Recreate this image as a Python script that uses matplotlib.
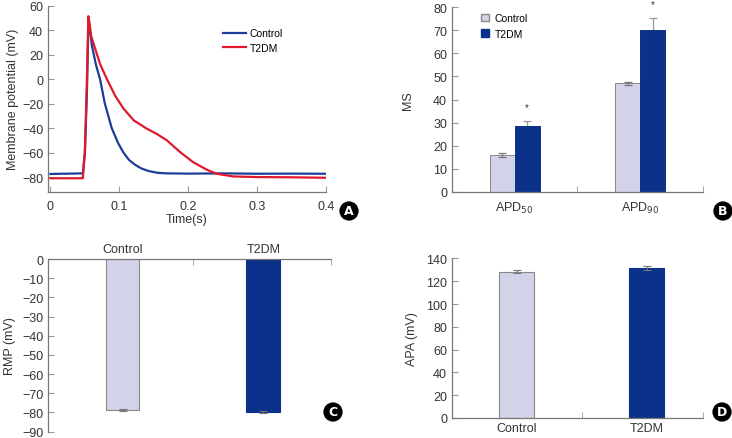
import matplotlib
matplotlib.use('Agg')
import numpy as np
import matplotlib.pyplot as plt
from matplotlib.patches import Patch

plt.rcParams['font.family'] = ['Liberation Sans', 'DejaVu Sans']

C_LINE = '#1d3e98'
T_LINE = '#e0182c'
C_BAR = '#d2d2e8'
T_BAR = '#0b318a'
GRID = '#777777'
TXT = '#333333'

# panel A: action potential traces
t_ctrl = [0.0, 0.047, 0.050, 0.053, 0.055, 0.058, 0.060, 0.066, 0.072, 0.079, 0.089,
          0.098, 0.106, 0.114, 0.123, 0.132, 0.142, 0.155, 0.169, 0.20, 0.25, 0.30, 0.35, 0.40]
v_ctrl = [-77.5, -77.0, -60, -10, 42, 38, 28, 12, 0, -20, -40,
          -52, -60, -66, -70, -73, -75, -76.5, -77, -77.2, -77.0, -77.3, -77.2, -77.3]
t_t2dm = [0.0, 0.047, 0.050, 0.053, 0.055, 0.057, 0.059, 0.065, 0.072, 0.082, 0.094,
          0.106, 0.121, 0.140, 0.154, 0.169, 0.188, 0.207, 0.227, 0.241, 0.265, 0.299, 0.35, 0.40]
v_t2dm = [-81, -81, -60, 0, 51.5, 45, 35.5, 24.8, 12.5, 0, -13.6,
          -24, -33.7, -40.5, -44.6, -50, -59.5, -67.8, -74, -77.3, -79.5, -80, -80.2, -80.6]

# panel B: action potential duration
apd_labels = ['APD$_{50}$', 'APD$_{90}$']
apd_ctrl = [16.0, 47.0]
apd_ctrl_err = [1.0, 0.8]
apd_t2dm = [28.3, 70.0]
apd_t2dm_err = [2.6, 5.4]

# panel C / D
groups = ['Control', 'T2DM']
rmp = [-78.8, -79.6]
rmp_err = [0.6, 0.5]
apa = [128.5, 131.5]
apa_err = [1.3, 2.0]

fig = plt.figure(figsize=(7.32, 4.39), dpi=100)
axA = fig.add_axes([0.0656, 0.561, 0.3798, 0.4235])
axB = fig.add_axes([0.6175, 0.561, 0.3425, 0.420])
axC = fig.add_axes([0.0656, 0.0144, 0.3864, 0.3933])
axD = fig.add_axes([0.6175, 0.0456, 0.3425, 0.3634])


def style(ax, spines=('left', 'bottom')):
    for s in ['left', 'right', 'top', 'bottom']:
        ax.spines[s].set_visible(s in spines)
        ax.spines[s].set_color(GRID)
        ax.spines[s].set_linewidth(0.9)
    ax.tick_params(direction='in', length=4, width=0.8, color='#999999',
                   labelsize=9, labelcolor=TXT)


# ---- A ----
axA.plot(t_ctrl, v_ctrl, color=C_LINE, lw=1.6, label='Control')
axA.plot(t_t2dm, v_t2dm, color=T_LINE, lw=1.6, label='T2DM')
axA.set_xlim(-0.0035, 0.4)
axA.set_ylim(-92, 60)
axA.set_xticks([0, 0.1, 0.2, 0.3, 0.4])
axA.set_xticklabels(['0', '0.1', '0.2', '0.3', '0.4'])
axA.set_yticks(range(-80, 61, 20))
style(axA)
axA.tick_params(axis='x', pad=6)
axA.set_xlabel('Time(s)', fontsize=9, color=TXT, labelpad=1)
axA.set_ylabel('Membrane potential (mV)', fontsize=9, color=TXT, labelpad=2)
axA.legend(loc='upper left', bbox_to_anchor=(0.595, 0.93), frameon=False, fontsize=7.5,
           handlelength=2.2, handletextpad=0.4, labelspacing=0.45)

# ---- B ----
x = np.arange(len(apd_labels))
w = 0.2
axB.bar(x - w / 2, apd_ctrl, w, color=C_BAR, edgecolor='#888888', lw=0.7, zorder=2, label='Control')
axB.bar(x + w / 2, apd_t2dm, w, color=T_BAR, edgecolor=T_BAR, lw=0.7, zorder=2, label='T2DM')
axB.errorbar(x - w / 2, apd_ctrl, yerr=apd_ctrl_err, fmt='none', ecolor='#777777',
             elinewidth=0.9, capsize=3, capthick=0.9, zorder=3)
axB.errorbar(x + w / 2, apd_t2dm, yerr=apd_t2dm_err, fmt='none', ecolor='#999999',
             elinewidth=0.9, capsize=3, capthick=0.9, zorder=1)
for xi, v, e in zip(x, apd_t2dm, apd_t2dm_err):
    axB.text(xi + w / 2, v + e + 6, '*', ha='center', va='center', fontsize=7, color=TXT)
axB.set_xlim(-0.5, 1.5)
axB.set_ylim(0, 80)
axB.set_yticks(range(0, 81, 10))
axB.set_xticks(x)
axB.set_xticklabels(apd_labels)
style(axB)
axB.tick_params(axis='x', length=0, pad=6)
axB.set_xticks([0.5, 1.5], minor=True)
axB.tick_params(axis='x', which='minor', direction='in', length=4, color='#999999')
axB.set_ylabel('MS', fontsize=9, color=TXT, labelpad=14)
axB.legend(handles=[Patch(facecolor=C_BAR, edgecolor='#888888', label='Control'),
                    Patch(facecolor=T_BAR, edgecolor=T_BAR, label='T2DM')],
           loc='upper left', bbox_to_anchor=(0.08, 1.02), frameon=False, fontsize=7.5,
           handlelength=0.7, handleheight=0.7, handletextpad=0.6, labelspacing=0.55)

# ---- C ----
xc = np.arange(len(groups))
wc = 0.24
axC.bar(xc, rmp, wc, color=[C_BAR, T_BAR], edgecolor=['#888888', T_BAR], lw=0.8, zorder=2)
axC.errorbar(xc, rmp, yerr=rmp_err, fmt='none', ecolor='#777777', elinewidth=0.8,
             capsize=3, capthick=0.8, zorder=3)
axC.set_xlim(-0.53, 1.48)
axC.set_ylim(-90, 0)
axC.set_yticks(range(-90, 1, 10))
axC.set_xticks(xc)
axC.set_xticklabels(groups)
style(axC, spines=('left', 'top'))
axC.xaxis.tick_top()
axC.tick_params(axis='x', length=0, pad=3, labelsize=9)
axC.set_xticks([0.5, 1.48], minor=True)
axC.tick_params(axis='x', which='minor', direction='in', length=4, color='#999999',
                top=True, bottom=False)
axC.set_ylabel('RMP (mV)', fontsize=9, color=TXT, labelpad=4)

# ---- D ----
xd = np.arange(len(groups))
wd = 0.27
axD.bar(xd, apa, wd, color=[C_BAR, T_BAR], edgecolor=['#888888', T_BAR], lw=0.8, zorder=2)
axD.errorbar(xd, apa, yerr=apa_err, fmt='none', ecolor='#777777', elinewidth=0.8,
             capsize=3, capthick=0.8, zorder=3)
axD.set_xlim(-0.5, 1.43)
axD.set_ylim(0, 140)
axD.set_yticks(range(0, 141, 20))
axD.set_xticks(xd)
axD.set_xticklabels(groups)
style(axD)
axD.tick_params(axis='x', length=0, pad=3)
axD.set_xticks([0.5, 1.43], minor=True)
axD.tick_params(axis='x', which='minor', direction='in', length=4, color='#999999')
axD.set_ylabel('APA (mV)', fontsize=9, color=TXT, labelpad=6)

# panel badges
for lbl, (px, py) in zip('ABCD', [(349, 212), (723, 212), (333, 413), (722, 413)]):
    fig.text(px / 732, 1 - py / 439, lbl, ha='center', va='center', color='white',
             fontsize=9, fontweight='bold', family='DejaVu Sans',
             bbox=dict(boxstyle='circle,pad=0.25', facecolor='black', edgecolor='none'))

fig.savefig('out.png', dpi=100)
